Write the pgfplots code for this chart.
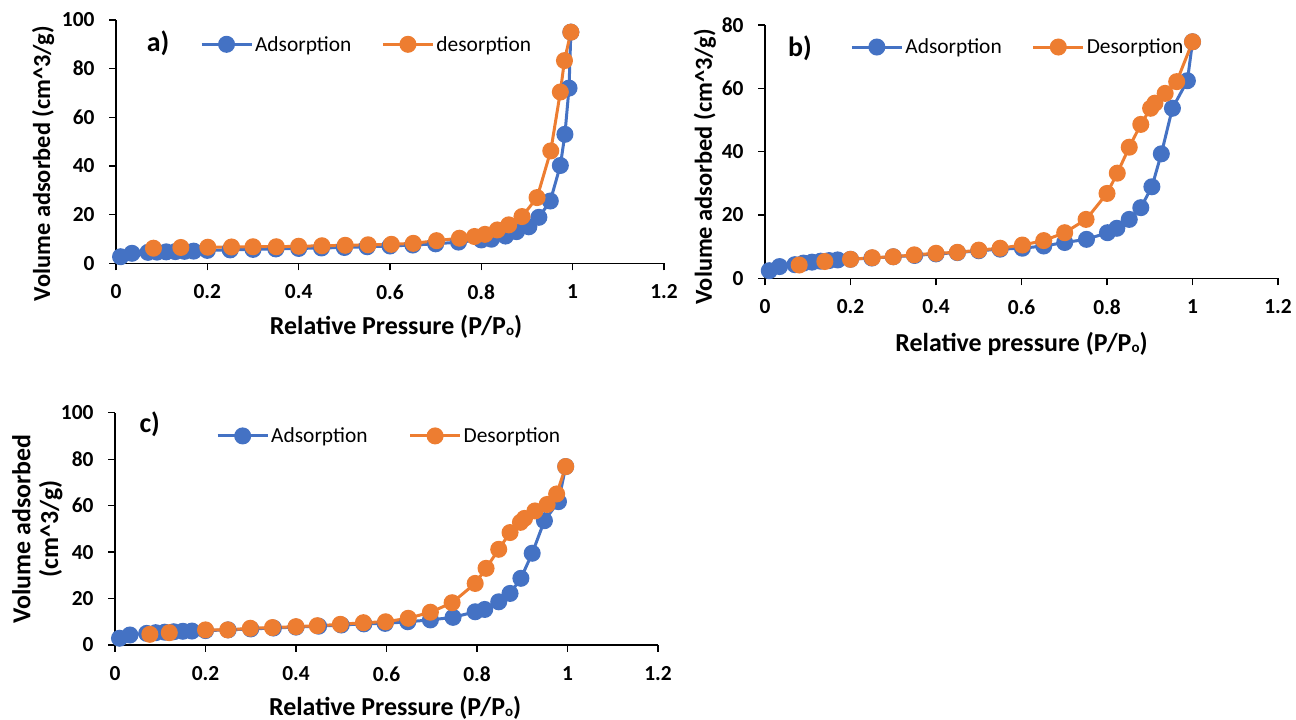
\documentclass[border=0pt]{standalone}
\usepackage{fontspec}
\setmainfont{Carlito}
\usepackage{pgfplots}
\pgfplotsset{compat=1.18}

\definecolor{adsblue}{HTML}{4472C4}
\definecolor{desorange}{HTML}{ED7D31}
\newcommand\subo{\raisebox{-1bp}{\fontsize{15}{15}\selectfont o}}

\pgfplotsset{
  iso/.style={
    scale only axis,
    axis lines=left,
    axis line style={-, black, line width=1.3bp},
    xmin=0, xmax=1.2, ymin=0,
    xtick={0,0.2,0.4,0.6,0.8,1,1.2},
    tick align=outside,
    major tick length=7bp,
    tick style={black, line width=1.3bp},
    /pgf/number format/assume math mode=true,
    tick label style={font=\fontsize{21.5}{24}\selectfont\bfseries},
    xticklabel style={yshift=-11bp},
    yticklabel style={xshift=-11bp},
    label style={font=\fontsize{26}{30}\selectfont\bfseries},
    ylabel style={anchor=center, rotate=0, font=\fontsize{24.5}{28}\selectfont\bfseries},
    xlabel style={anchor=center},
    clip=false,
    legend columns=2,
    legend style={draw=none, fill=none, inner sep=0pt, anchor=west,
      font=\fontsize{21.5}{24}\selectfont,
      /tikz/every even column/.append style={column sep=28bp}},
    legend cell align=left,
    legend image code/.code={\draw[mark repeat=2,mark phase=2]
      plot coordinates {(0bp,0bp) (25bp,0bp) (50bp,0bp)};},
  },
  ads/.style={color=adsblue, line width=3bp, mark=*, mark size=7bp,
    mark options={solid, fill=adsblue, draw=adsblue}},
  des/.style={color=desorange, line width=3bp, mark=*, mark size=7bp,
    mark options={solid, fill=desorange, draw=desorange}},
}

\begin{document}
\begin{tikzpicture}[x=1bp,y=1bp]
\path[use as bounding box] (0,0) rectangle (1296,720);

% ---------- a) ----------
\begin{axis}[iso,
  at={(116bp,456.7bp)}, anchor=south west,
  width=548bp, height=243.3bp,
  ymax=100, ytick={0,20,40,60,80,100},
  xlabel={Relative Pressure (P/P\subo)},
  ylabel={Volume adsorbed (cm\^{}3/g)},
  xlabel style={at={(axis description cs:0.511,-0.263)}},
  ylabel style={at={(axis description cs:-0.133,0.41)}},
  legend style={at={(axis description cs:0.153,0.90)}},
]
\addplot[ads] coordinates {
  (0.01,2.7) (0.035,4.1) (0.07,4.5) (0.09,4.6) (0.11,4.7) (0.13,4.8)
  (0.15,4.9) (0.17,5.0) (0.20,5.3) (0.25,5.5) (0.30,5.7) (0.35,5.9)
  (0.40,6.1) (0.45,6.3) (0.50,6.5) (0.55,6.8) (0.60,7.1) (0.65,7.5)
  (0.70,8.0) (0.75,8.7) (0.80,9.6) (0.822,9.9) (0.853,11.2) (0.877,13.0)
  (0.904,15.0) (0.926,18.9) (0.951,25.6) (0.973,40.2) (0.983,53.0)
  (0.992,72.0) (0.996,95.0)
};
\addlegendentry{Adsorption}
\addplot[des] coordinates {
  (0.996,95.0) (0.982,83.3) (0.973,70.4) (0.952,46.2) (0.922,27.0)
  (0.889,19.2) (0.860,15.8) (0.835,13.7) (0.808,11.9) (0.785,11.0)
  (0.752,10.3) (0.702,9.3) (0.651,8.2) (0.603,7.8) (0.552,7.6)
  (0.502,7.4) (0.451,7.2) (0.40,7.0) (0.351,6.8) (0.30,6.8) (0.253,6.7)
  (0.201,6.6) (0.142,6.5) (0.082,6.2)
};
\addlegendentry{desorption}
\node[font=\fontsize{28}{30}\selectfont\bfseries] at (axis description cs:0.077,0.905) {a)};
\end{axis}

% ---------- b) ----------
\begin{axis}[iso,
  at={(765bp,441.7bp)}, anchor=south west,
  width=513bp, height=253.3bp,
  ymax=80, ytick={0,20,40,60,80},
  xlabel={Relative pressure (P/P\subo)},
  ylabel={Volume adsorbed (cm\^{}3/g)},
  xlabel style={at={(axis description cs:0.5,-0.26)}},
  ylabel style={at={(axis description cs:-0.117,0.44)}},
  legend style={at={(axis description cs:0.166,0.913)}},
]
\addplot[ads] coordinates {
  (0.01,2.4) (0.034,3.7) (0.07,4.3) (0.09,4.8) (0.11,5.1) (0.13,5.4)
  (0.15,5.6) (0.17,5.8) (0.20,6.0) (0.25,6.4) (0.30,6.8) (0.35,7.2)
  (0.40,7.7) (0.45,8.1) (0.50,8.7) (0.55,9.2) (0.602,9.5) (0.652,10.2)
  (0.701,11.3) (0.752,12.3) (0.801,14.4) (0.823,15.8) (0.852,18.6)
  (0.879,22.3) (0.905,28.9) (0.927,39.3) (0.953,53.7) (0.988,62.4)
  (1.0,74.7)
};
\addlegendentry{Adsorption}
\addplot[des] coordinates {
  (1.0,74.7) (0.963,62.1) (0.936,58.4) (0.912,55.3) (0.902,53.7)
  (0.879,48.6) (0.852,41.4) (0.824,33.2) (0.80,26.8) (0.751,18.6)
  (0.701,14.4) (0.652,11.9) (0.602,10.5) (0.55,9.5) (0.50,8.9)
  (0.45,8.2) (0.40,7.9) (0.349,7.4) (0.30,6.8) (0.251,6.5) (0.20,6.0)
  (0.14,5.3) (0.08,4.2)
};
\addlegendentry{Desorption}
\node[font=\fontsize{28}{30}\selectfont\bfseries] at (axis description cs:0.068,0.909) {b)};
\end{axis}

% ---------- c) ----------
\begin{axis}[iso,
  at={(115bp,75bp)}, anchor=south west,
  width=543bp, height=232.3bp,
  ymax=100, ytick={0,20,40,60,80,100},
  xlabel={Relative Pressure (P/P\subo)},
  ylabel={Volume adsorbed\\(cm\^{}3/g)},
  xlabel style={at={(axis description cs:0.516,-0.27)}},
  ylabel style={at={(axis description cs:-0.143,0.5)}, align=center,
    font=\fontsize{26}{28}\selectfont\bfseries},
  legend style={at={(axis description cs:0.186,0.90)},
    /tikz/every even column/.append style={column sep=39bp}},
]
\addplot[ads] coordinates {
  (0.01,2.9) (0.033,4.3) (0.07,5.0) (0.09,5.3) (0.11,5.5) (0.13,5.7)
  (0.15,5.9) (0.17,6.0) (0.20,6.2) (0.25,6.5) (0.30,6.9) (0.35,7.3)
  (0.40,7.7) (0.45,8.1) (0.50,8.6) (0.55,9.1) (0.597,9.3) (0.647,10.0)
  (0.697,10.8) (0.747,11.9) (0.796,14.3) (0.817,15.3) (0.848,18.6)
  (0.873,22.2) (0.897,28.7) (0.922,39.5) (0.949,53.5) (0.980,61.7)
  (0.996,76.8)
};
\addlegendentry{Adsorption}
\addplot[des] coordinates {
  (0.996,76.8) (0.976,65.0) (0.955,60.5) (0.928,57.7) (0.905,54.5)
  (0.896,52.8) (0.873,48.4) (0.848,41.2) (0.82,33.0) (0.796,26.5)
  (0.745,18.2) (0.697,14.1) (0.648,11.5) (0.598,10.0) (0.549,9.6)
  (0.498,8.9) (0.447,8.3) (0.40,7.9) (0.348,7.5) (0.299,7.2) (0.249,6.5)
  (0.20,6.5) (0.12,5.3) (0.077,4.6)
};
\addlegendentry{Desorption}
\node[font=\fontsize{28}{30}\selectfont\bfseries] at (axis description cs:0.064,0.951) {c)};
\end{axis}
\end{tikzpicture}
\end{document}
